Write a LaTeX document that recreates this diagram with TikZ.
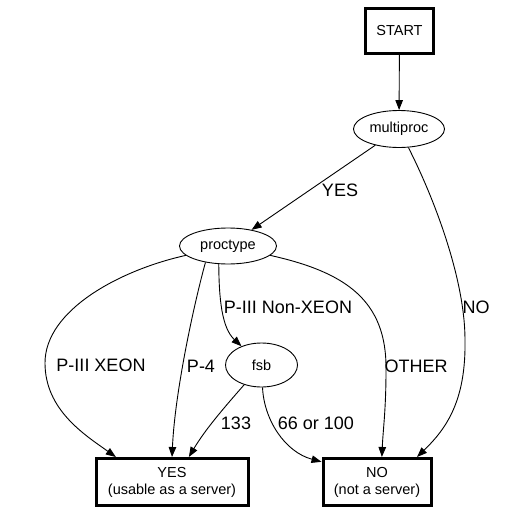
\documentclass[tikz,border=0pt]{standalone}
\usepackage{fontspec}
\setmainfont{Liberation Sans}
\usetikzlibrary{arrows.meta,shapes.geometric}
\begin{document}
\begin{tikzpicture}[x=1pt,y=-1pt,
  boxnode/.style={draw,line width=3pt,rectangle,inner sep=0pt,align=center,font=\fontsize{14.5}{17}\selectfont},
  ellnode/.style={draw,line width=0.9pt,ellipse,inner sep=0pt,font=\fontsize{14.5}{17}\selectfont},
  edge/.style={line width=0.9pt,-{Triangle[length=10pt,width=7.5pt]}},
  lbl/.style={inner sep=0pt,font=\fontsize{18}{21}\selectfont}]
\useasboundingbox (0,0) rectangle (514,514);
\node[boxnode,minimum width=68pt,minimum height=45pt] (start) at (399.5,31) {START};
\node[ellnode,minimum width=91pt,minimum height=37pt] (multiproc) at (399,129) {multiproc};
\node[ellnode,minimum width=97pt,minimum height=36pt] (proctype) at (228,246) {proctype};
\node[ellnode,minimum width=72pt,minimum height=44pt] (fsb) at (261.5,365) {fsb};
\node[boxnode,minimum width=152pt,minimum height=47pt] (yes) at (172,482) {YES\\(usable as a server)};
\node[boxnode,minimum width=108pt,minimum height=47pt] (no) at (377,482) {NO\\(not a server)};

\draw[edge] (start) -- (multiproc);
\draw[edge] (multiproc) -- (proctype);
\draw[edge] (multiproc) .. controls (435,200) and (465,280) .. (465,340)
  .. controls (466,400) and (447,428) .. (no.32);
\draw[edge] (proctype) .. controls (120,270) and (45,310) .. (45,363)
  .. controls (45,410) and (85,435) .. (yes.156);
\draw[edge] (proctype.216) .. controls (195,300) and (175,390) .. (yes.north);
\draw[edge] (proctype.243) .. controls (219,300) and (222,328) .. (fsb);
\draw[edge] (proctype) .. controls (345,272) and (387,300) .. (386,370)
  .. controls (386,410) and (383,430) .. (no.79);
\draw[edge] (fsb) .. controls (222,410) and (205,430) .. (yes.56);
\draw[edge] (fsb) .. controls (264,420) and (285,452) .. (no.160);

\node[lbl] (lyes) at (340,190) {YES};
\node[lbl] (lno) at (476,307) {NO};
\node[lbl] (lnonxeon) at (288,307) {P-III Non-XEON};
\node[lbl] (lxeon) at (101,365) {P-III XEON};
\node[lbl] (lp4) at (201,366) {P-4};
\node[lbl] (lother) at (416,366) {OTHER};
\node[lbl] (l133) at (236,423) {133};
\node[lbl] (l66) at (316,423) {66 or 100};
\end{tikzpicture}
\end{document}
